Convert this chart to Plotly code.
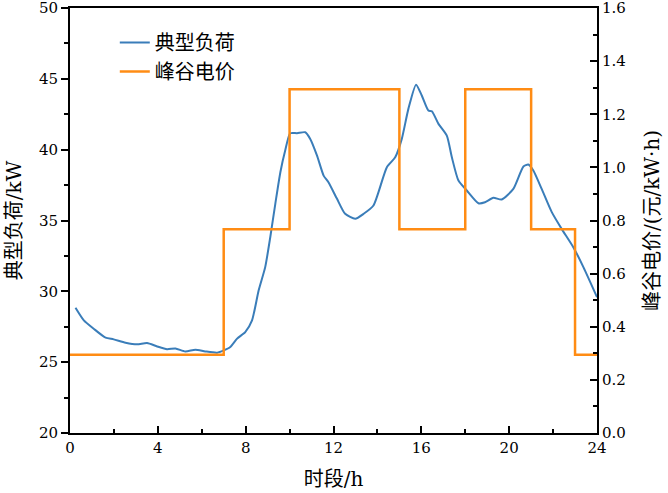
import plotly.graph_objects as go

# Typical load (kW) vs hour
load_hours = [0.25, 0.63, 1.08, 1.62, 1.99, 2.53, 3.06, 3.51, 3.97, 4.42, 4.80, 5.25, 5.71, 6.16, 6.70,
              7.00, 7.30, 7.61, 7.98, 8.29, 8.59, 8.89, 9.12, 9.35, 9.58, 9.80, 10.03, 10.34, 10.71,
              10.94, 11.25, 11.55, 11.77, 12.16, 12.53, 12.99, 13.37, 13.82, 14.43, 14.81, 15.11,
              15.41, 15.76, 16.02, 16.32, 16.48, 16.78, 17.16, 17.39, 17.69, 18.07, 18.60, 18.90,
              19.28, 19.66, 20.19, 20.65, 20.87, 21.10, 21.48, 21.94, 22.39, 22.92, 23.38, 24.00]
load_kw = [28.84, 27.95, 27.36, 26.73, 26.61, 26.37, 26.26, 26.35, 26.11, 25.92, 25.97, 25.76, 25.88, 25.76, 25.67,
           25.83, 26.07, 26.66, 27.12, 27.95, 30.06, 31.71, 33.82, 36.18, 38.41, 39.94, 41.16, 41.16, 41.23,
           40.76, 39.58, 38.17, 37.70, 36.53, 35.47, 35.12, 35.47, 36.06, 38.76, 39.46, 40.76,
           42.88, 44.59, 43.82, 42.76, 42.71, 41.82, 40.99, 39.46, 37.82, 37.12, 36.22, 36.29,
           36.60, 36.48, 37.23, 38.81, 38.95, 38.53, 37.23, 35.59, 34.41, 33.12, 31.71, 29.59]

# Time-of-use price (yuan/kWh), step starting at each hour
price_hours = [0, 7, 10, 15, 18, 21, 23, 24]
price_vals = [0.295, 0.767, 1.294, 0.767, 1.294, 0.767, 0.295, 0.295]

x_ticks = [0, 4, 8, 12, 16, 20, 24]

SERIF = "DejaVu Serif"
TITLE_FONT = "DejaVu Serif, Noto Sans CJK SC"
CJK = "Noto Sans CJK SC"
BLUE = "#3a7db9"
ORANGE = "#ff8c14"

fig = go.Figure()
fig.add_trace(go.Scatter(x=load_hours, y=load_kw, mode="lines", name="典型负荷",
                         line=dict(color=BLUE, width=2, shape="spline", smoothing=0.6)))
fig.add_trace(go.Scatter(x=price_hours, y=price_vals, mode="lines", name="峰谷电价", yaxis="y2",
                         line=dict(color=ORANGE, width=2.5, shape="hv")))

axis_common = dict(showline=True, linecolor="black", linewidth=2, showgrid=False, zeroline=False,
                   tickcolor="black", tickwidth=2, ticklen=7, automargin=False,
                   ticklabeloverflow="allow",
                   tickfont=dict(family=SERIF, size=15, color="black"))

fig.update_layout(
    width=668, height=493,
    margin=dict(l=70, r=71, t=8, b=60),
    paper_bgcolor="white", plot_bgcolor="white",
    font=dict(family=TITLE_FONT, color="black"),
    showlegend=True,
    legend=dict(x=0.085, y=0.965, xanchor="left", yanchor="top", bgcolor="rgba(0,0,0,0)",
                font=dict(family=CJK, size=20, color="black"), tracegroupgap=2),
    xaxis=dict(range=[0, 24], tickvals=x_ticks, ticks="inside", mirror=True,
               minor=dict(dtick=2, ticks="inside", ticklen=4, tickcolor="black", tickwidth=2),
               title=dict(text="时段/h", font=dict(family=TITLE_FONT, size=20), standoff=16),
               **axis_common),
    yaxis=dict(range=[20, 50], dtick=5, ticks="outside",
               minor=dict(dtick=2.5, ticks="outside", ticklen=4, tickcolor="black", tickwidth=2),
               title=dict(text="典型负荷/kW", font=dict(family=TITLE_FONT, size=20), standoff=12),
               **axis_common),
    yaxis2=dict(range=[0, 1.6], dtick=0.2, tickformat=".1f", ticks="inside", overlaying="y", side="right",
                minor=dict(dtick=0.1, ticks="inside", ticklen=4, tickcolor="black", tickwidth=2),
                title=dict(text="峰谷电价/(元/kW·h)", font=dict(family=TITLE_FONT, size=20), standoff=20),
                **axis_common),
)

fig.write_html("out.html", config={"displayModeBar": False},
               post_script="document.body.style.margin='0';")
